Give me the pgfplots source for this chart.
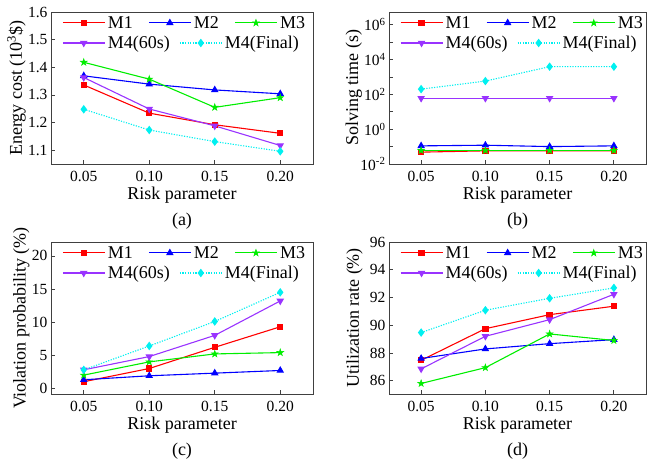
\documentclass[border=0pt]{standalone}
\usepackage{fontspec}
\setmainfont{Liberation Serif}
\usepackage{pgfplots}
\pgfplotsset{compat=1.18}

\definecolor{cM1}{HTML}{FF0000}
\definecolor{cM2}{HTML}{0000FF}
\definecolor{cM3}{HTML}{00EE00}
\definecolor{cM4}{HTML}{9933FF}
\definecolor{cM5}{HTML}{00F0F0}

% filled five-pointed star
\pgfdeclareplotmark{pstar}{%
  \pgfpathmoveto{\pgfqpointpolar{90}{\pgfplotmarksize}}%
  \pgfpathlineto{\pgfqpointpolar{234}{\pgfplotmarksize}}%
  \pgfpathlineto{\pgfqpointpolar{18}{\pgfplotmarksize}}%
  \pgfpathlineto{\pgfqpointpolar{162}{\pgfplotmarksize}}%
  \pgfpathlineto{\pgfqpointpolar{306}{\pgfplotmarksize}}%
  \pgfpathclose
  \pgfusepathqfillstroke}

\pgfplotsset{
  s1/.style={cM1, line width=1.1pt, mark=square*, mark size=2.6pt},
  s2/.style={cM2, line width=1.1pt, mark=triangle*, mark size=3.3pt},
  s3/.style={cM3, line width=1.1pt, mark=pstar, mark size=3.6pt, mark options={line width=0.5pt}},
  s4/.style={cM4, line width=1.1pt, mark=triangle*, mark size=3.3pt, mark options={rotate=180}},
  s5/.style={cM5, line width=1.1pt, dash pattern=on 1.2pt off 1.4pt, mark=diamond*, mark size=3.4pt, mark options={solid}},
  leg/.style={
    legend cell align=left,
    legend style={draw=none, fill=none, inner sep=0pt, anchor=west,
      font=\fontsize{18}{20}\selectfont, nodes={inner xsep=2.5pt, inner ysep=1pt}},
    legend image code/.code={\draw[mark repeat=2, mark phase=2] plot coordinates {(0pt,0pt) (21pt,0pt) (42pt,0pt)};},
  },
  panel/.style={
    scale only axis, height=152pt, clip=false,
    xmin=0.025, xmax=0.225,
    xtick={0.05,0.1,0.15,0.2}, xticklabels={0.05,0.10,0.15,0.20},
    tick pos=left, tick align=inside, major tick length=4pt, minor tick length=4pt,
    axis line style={black!75, line width=0.8pt},
    tick style={black!75, line width=0.8pt},
    ticklabel style={font=\fontsize{15.5}{17}\selectfont},
    /pgf/number format/assume math mode=true,
    label style={font=\fontsize{18}{20}\selectfont},
    xlabel={Risk parameter},
    xlabel style={at={(axis description cs:0.5,0)}, anchor=base, yshift=-36pt},
    xticklabel style={anchor=base, yshift=-18pt},
    leg, legend columns=3,
    legend style={at={(axis description cs:0.042,0.928)},
      /tikz/every even column/.append style={column sep=13pt}},
  },
  row2/.style={
    scale only axis, height=152pt, hide axis,
    xmin=0, xmax=1, ymin=0, ymax=1,
    leg, legend columns=2,
    legend style={at={(axis description cs:0.042,0.796)},
      /tikz/every even column/.append style={column sep=7pt}},
  },
}

\begin{document}
\begin{tikzpicture}
\path[use as bounding box] (0pt,0pt) rectangle (647pt,462pt);

% (a) energy cost
\begin{axis}[panel, at={(51pt,298pt)}, anchor=south west, width=262pt,
  ymin=1.05, ymax=1.6, ytick={1.1,1.2,1.3,1.4,1.5,1.6},
  yticklabels={1.1,1.2,1.3,1.4,1.5,1.6},
  ylabel={Energy cost (10\textsuperscript{3}\$)},
  ylabel style={at={(axis description cs:-0.111,0.5)}, anchor=base}]
\addplot[s1] coordinates {(0.05,1.336) (0.10,1.234) (0.15,1.192) (0.20,1.161)};
\addplot[s2] coordinates {(0.05,1.369) (0.10,1.339) (0.15,1.318) (0.20,1.304)};
\addplot[s3] coordinates {(0.05,1.418) (0.10,1.357) (0.15,1.255) (0.20,1.290)};
\addplot[s4] coordinates {(0.05,1.363) (0.10,1.249) (0.15,1.188) (0.20,1.117)};
\addplot[s5] coordinates {(0.05,1.248) (0.10,1.173) (0.15,1.131) (0.20,1.096)};
\legend{M1,M2,M3}
\node[anchor=base, font=\fontsize{18}{20}\selectfont, yshift=-62pt] at (axis description cs:0.5,0) {(a)};
\end{axis}
\begin{axis}[row2, at={(51pt,298pt)}, anchor=south west, width=262pt]
\addlegendimage{s4}\addlegendentry{M4(60s)}
\addlegendimage{s5}\addlegendentry{M4(Final)}
\end{axis}

% (b) solving time
\begin{axis}[panel, at={(389pt,298pt)}, anchor=south west, width=257pt,
  ymode=log, ymin=1e-2, ymax=5.4e6,
  ytick={1e-2,1,1e2,1e4,1e6},
  yticklabels={10\textsuperscript{-2},10\textsuperscript{0},10\textsuperscript{2},10\textsuperscript{4},10\textsuperscript{6}},
  minor ytick={1e-1,1e1,1e3,1e5},
  ylabel={Solving time (s)},
  ylabel style={at={(axis description cs:-0.12,0.5)}, anchor=base}]
\addplot[s1] coordinates {(0.05,0.048) (0.10,0.057) (0.15,0.057) (0.20,0.057)};
\addplot[s2] coordinates {(0.05,0.11) (0.10,0.12) (0.15,0.10) (0.20,0.11)};
\addplot[s3] coordinates {(0.05,0.06) (0.10,0.06) (0.15,0.06) (0.20,0.06)};
\addplot[s4] coordinates {(0.05,60) (0.10,60) (0.15,60) (0.20,60)};
\addplot[s5] coordinates {(0.05,200) (0.10,580) (0.15,3900) (0.20,3900)};
\legend{M1,M2,M3}
\node[anchor=base, font=\fontsize{18}{20}\selectfont, yshift=-62pt] at (axis description cs:0.5,0) {(b)};
\end{axis}
\begin{axis}[row2, at={(389pt,298pt)}, anchor=south west, width=257pt]
\addlegendimage{s4}\addlegendentry{M4(60s)}
\addlegendimage{s5}\addlegendentry{M4(Final)}
\end{axis}

% (c) violation probability
\begin{axis}[panel, at={(51pt,68pt)}, anchor=south west, width=262pt,
  ymin=-0.85, ymax=22.1, ytick={0,5,10,15,20},
  ylabel={Violation probability (\%)},
  ylabel style={at={(axis description cs:-0.097,0.5)}, anchor=base}]
\addplot[s1] coordinates {(0.05,1.0) (0.10,3.0) (0.15,6.2) (0.20,9.3)};
\addplot[s2] coordinates {(0.05,1.3) (0.10,1.9) (0.15,2.3) (0.20,2.7)};
\addplot[s3] coordinates {(0.05,2.0) (0.10,4.0) (0.15,5.2) (0.20,5.4)};
\addplot[s4] coordinates {(0.05,2.8) (0.10,4.8) (0.15,8.0) (0.20,13.2)};
\addplot[s5] coordinates {(0.05,2.8) (0.10,6.4) (0.15,10.1) (0.20,14.5)};
\legend{M1,M2,M3}
\node[anchor=base, font=\fontsize{18}{20}\selectfont, yshift=-62pt] at (axis description cs:0.5,0) {(c)};
\end{axis}
\begin{axis}[row2, at={(51pt,68pt)}, anchor=south west, width=262pt]
\addlegendimage{s4}\addlegendentry{M4(60s)}
\addlegendimage{s5}\addlegendentry{M4(Final)}
\end{axis}

% (d) utilization rate
\begin{axis}[panel, at={(389pt,68pt)}, anchor=south west, width=257pt,
  ymin=85.04, ymax=96, ytick={86,88,90,92,94,96},
  ylabel={Utilization rate (\%)},
  ylabel style={at={(axis description cs:-0.117,0.5)}, anchor=base}]
\addplot[s1] coordinates {(0.05,87.47) (0.10,89.75) (0.15,90.76) (0.20,91.37)};
\addplot[s2] coordinates {(0.05,87.60) (0.10,88.29) (0.15,88.67) (0.20,88.96)};
\addplot[s3] coordinates {(0.05,85.80) (0.10,86.94) (0.15,89.37) (0.20,88.90)};
\addplot[s4] coordinates {(0.05,86.85) (0.10,89.20) (0.15,90.40) (0.20,92.23)};
\addplot[s5] coordinates {(0.05,89.47) (0.10,91.08) (0.15,91.94) (0.20,92.69)};
\legend{M1,M2,M3}
\node[anchor=base, font=\fontsize{18}{20}\selectfont, yshift=-62pt] at (axis description cs:0.5,0) {(d)};
\end{axis}
\begin{axis}[row2, at={(389pt,68pt)}, anchor=south west, width=257pt]
\addlegendimage{s4}\addlegendentry{M4(60s)}
\addlegendimage{s5}\addlegendentry{M4(Final)}
\end{axis}
\end{tikzpicture}
\end{document}
